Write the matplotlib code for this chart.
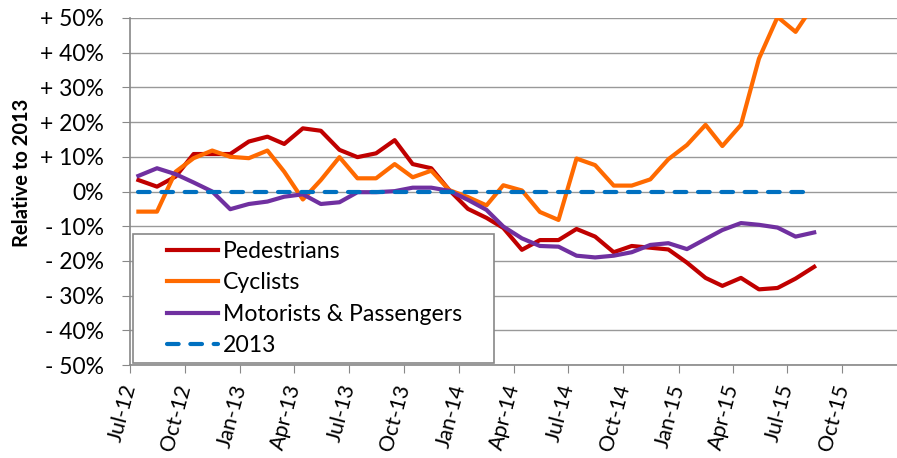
import matplotlib
matplotlib.use("Agg")
import matplotlib.pyplot as plt
import matplotlib.dates as mdates
from matplotlib.lines import Line2D
from matplotlib.legend_handler import HandlerLine2D
import pandas as pd

plt.rcParams['font.family'] = ['Lato', 'DejaVu Sans']

months = pd.date_range("2012-07-01", periods=38, freq="MS") + pd.Timedelta(days=14)

pedestrians = [3.3, 1.4, 4.3, 10.8, 10.8, 10.8, 14.4, 15.8, 13.7, 18.2, 17.5, 12.0, 9.9,
               11.0, 14.8, 7.9, 6.7, 0.4, -5.0, -7.6, -10.5, -16.8, -14.0, -14.0, -10.8,
               -13.0, -17.5, -15.7, -16.2, -16.7, -20.5, -24.9, -27.2, -24.9, -28.2,
               -27.8, -25.1, -21.7]
cyclists = [-5.8, -5.8, 5.7, 9.6, 11.8, 10.0, 9.6, 11.8, 5.7, -2.3, 3.3, 9.9, 3.8, 3.8,
            7.9, 4.1, 6.0, 0.4, -1.6, -4.0, 1.8, 0.3, -5.9, -8.2, 9.5, 7.6, 1.7, 1.7, 3.5,
            9.3, 13.4, 19.2, 13.1, 19.2, 38.3, 50.3, 46.0, 54.0]
motorists = [4.5, 6.7, 5.0, 2.6, 0.0, -5.1, -3.6, -2.9, -1.5, -0.8, -3.6, -3.1, -0.2,
             -0.2, 0.1, 1.1, 1.1, 0.2, -2.4, -5.3, -10.1, -13.5, -15.7, -15.9, -18.5,
             -19.0, -18.5, -17.5, -15.4, -14.9, -16.6, -13.7, -11.1, -9.1, -9.6, -10.4,
             -13.0, -11.8]
baseline = [0.0] * 38

ytick_vals = [-50, -40, -30, -20, -10, 0, 10, 20, 30, 40, 50]
ytick_labels = ['- 50%', '- 40%', '- 30%', '- 20%', '- 10%', '0%',
                '+ 10%', '+ 20%', '+ 30%', '+ 40%', '+ 50%']

fig = plt.figure(figsize=(8.97, 4.58), dpi=100)
ax = fig.add_axes([130 / 897, 1 - 365 / 458, 767 / 897, 347 / 458])

ax.plot(months, pedestrians, color='#C00000', lw=3, label='Pedestrians')
ax.plot(months, cyclists, color='#FF6A00', lw=3, label='Cyclists')
ax.plot(months, motorists, color='#7030A0', lw=3, label='Motorists & Passengers')
ax.plot(months, baseline, color='#0070C0', lw=3, ls=(0, (2.8, 2.8)),
        dash_capstyle='round', label='2013')

ax.set_ylim(-50, 50)
ax.set_xlim(pd.Timestamp("2012-07-01"), pd.Timestamp("2015-12-31"))
ax.set_yticks(ytick_vals)
ax.set_yticklabels(ytick_labels, fontsize=16.5)
ax.set_ylabel('Relative to 2013', fontsize=14.5, fontweight='bold')
ax.yaxis.set_label_coords(-0.128, 0.553)

ax.xaxis.set_major_locator(mdates.MonthLocator(bymonth=[1, 4, 7, 10]))
ax.xaxis.set_major_formatter(mdates.DateFormatter('%b-%y'))
for lbl in ax.get_xticklabels():
    lbl.set_rotation(75)
    lbl.set_ha('right')
    lbl.set_va('center')
    lbl.set_rotation_mode('anchor')
    lbl.set_fontsize(15.5)
ax.tick_params(axis='x', length=6, color='#888888', pad=8)
ax.tick_params(axis='y', length=6, color='#888888', pad=13)

ax.grid(axis='y', color='#999999', lw=1)
ax.set_axisbelow(True)
for s in ['top', 'right']:
    ax.spines[s].set_visible(False)
for s in ['left', 'bottom']:
    ax.spines[s].set_color('#888888')
    ax.spines[s].set_linewidth(1.2)

# legend: handle starts well inside the box, like the original
fs = 16.6
fs_px = fs * 100 / 72
bpad = 7.0
start = 34 - bpad
leg = ax.legend(loc='lower left', bbox_to_anchor=(3 / 767, 2 / 347, 361 / 767, 0.3),
                mode='expand', fontsize=fs,
                frameon=True, fancybox=False, edgecolor='#888888', framealpha=1,
                handlelength=(start + 51) / fs_px, borderpad=bpad / fs_px,
                labelspacing=0.45, handletextpad=5 / fs_px, borderaxespad=0,
                handler_map={Line2D: HandlerLine2D(xpad=start / fs_px)})
leg.get_frame().set_linewidth(1.2)

fig.savefig('out.png', dpi=100)
